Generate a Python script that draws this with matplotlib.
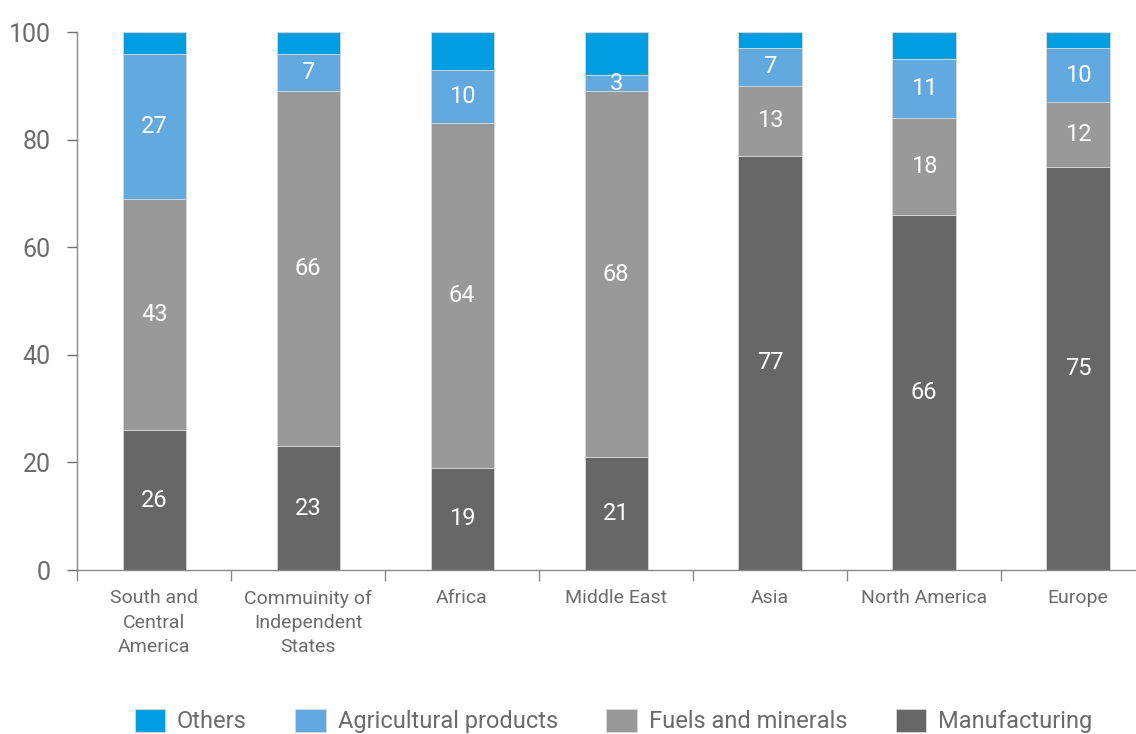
import numpy as np
import matplotlib.pyplot as plt

plt.rcParams['font.family'] = ['Roboto', 'DejaVu Sans']

regions = ["South and\nCentral\nAmerica", "Commuinity of\nIndependent\nStates", "Africa",
           "Middle East", "Asia", "North America", "Europe"]
manufacturing = [26, 23, 19, 21, 77, 66, 75]
fuels = [43, 66, 64, 68, 13, 18, 12]
agricultural = [27, 7, 10, 3, 7, 11, 10]
others = [4, 4, 7, 8, 3, 5, 3]

series = [
    ("Manufacturing", manufacturing, "#676767"),
    ("Fuels and minerals", fuels, "#999999"),
    ("Agricultural products", agricultural, "#62a9e0"),
    ("Others", others, "#009de0"),
]

grey = "#6b6b6b"

fig = plt.figure(figsize=(11.36, 7.34), dpi=100)
ax = fig.add_axes([0.068, 0.2234, 0.932, 0.733])

x = np.arange(len(regions))
bottom = np.zeros(len(regions))
handles = {}
for name, vals, color in series:
    bars = ax.bar(x, vals, 0.41, bottom=bottom, color=color,
                  edgecolor="#d8d8d8", linewidth=0.6, label=name)
    handles[name] = bars
    if name != "Others":
        for xi, b, v in zip(x, bottom, vals):
            ax.text(xi, b + v / 2, str(v), ha="center", va="center",
                    color="white", fontsize=17)
    bottom += np.array(vals)

ax.set_yticks(range(0, 101, 20))
ax.tick_params(axis="y", colors=grey, labelsize=18, length=7, width=1, pad=12)

# category labels between boundary ticks
ax.set_xticks(np.arange(-0.5, 7, 1.0))
ax.set_xticklabels([])
ax.set_xticks(x, minor=True)
ax.set_xticklabels(regions, minor=True, color=grey, fontsize=14, linespacing=1.45)
ax.tick_params(axis="x", which="major", length=8, width=1, color="#888888")
ax.tick_params(axis="x", which="minor", length=0, pad=14)

ax.set_ylim(0, 100)
ax.set_xlim(-0.5, 6.377)

for s in ["top", "right"]:
    ax.spines[s].set_visible(False)
for s in ["left", "bottom"]:
    ax.spines[s].set_color("#888888")
    ax.spines[s].set_linewidth(1)

order = ["Others", "Agricultural products", "Fuels and minerals", "Manufacturing"]
leg = fig.legend([handles[n] for n in order], order, loc="lower center",
                 bbox_to_anchor=(0.540, -0.028), ncol=4, frameon=False,
                 fontsize=17, handlelength=1.3, handleheight=1.15,
                 columnspacing=2.05, handletextpad=0.5)
for t in leg.get_texts():
    t.set_color(grey)

fig.savefig("out.png", dpi=100)
